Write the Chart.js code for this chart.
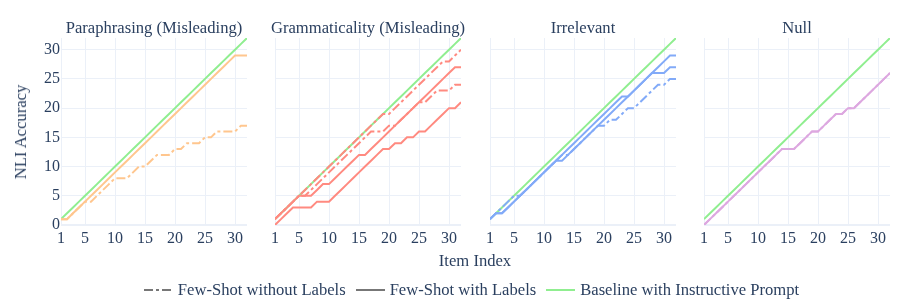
<!DOCTYPE html>
<html>
<head>
<meta charset="utf-8">
<script src="https://cdn.jsdelivr.net/npm/chart.js@4"></script>
<style>
  body { margin:0; background:#fff; width:913px; height:305px; overflow:hidden; position:relative;
         font-family:"Liberation Serif", "Times New Roman", serif; color:#2a3f5f; }
  canvas.panel { position:absolute; top:28px; }
  .title { position:absolute; top:18px; width:240px; text-align:center; font-size:16.6px; white-space:nowrap; }
  .ytitle { position:absolute; left:21px; top:132px; font-size:16.6px; white-space:nowrap;
            transform:translate(-50%,-50%) rotate(-90deg); }
  .xtitle { position:absolute; left:475px; top:261px; font-size:16.6px; transform:translate(-50%,-50%); }
  .legend { position:absolute; left:0; width:953px; top:280px; display:flex; justify-content:center;
            align-items:center; font-size:16.6px; }
  .legend span { display:flex; align-items:center; margin-right:10px; }
  .legend svg { margin-right:5px; }
</style>
</head>
<body>

<script>
// Item index (x) and tick labels
const itemIndex = [1,2,3,4,5,6,7,8,9,10,11,12,13,14,15,16,17,18,19,20,21,22,23,24,25,26,27,28,29,30,31,32];
const xTicks = [1,5,10,15,20,25,30];
const yTicks = [0,5,10,15,20,25,30];

// Baseline with instructive prompt (same in every panel)
const baseline = [1,2,3,4,5,6,7,8,9,10,11,12,13,14,15,16,17,18,19,20,21,22,23,24,25,26,27,28,29,30,31,32];

// Paraphrasing (Misleading)
const paraWithLabels    = [1,1,2,3,4,5,6,7,8,9,10,11,12,13,14,15,16,17,18,19,20,21,22,23,24,25,26,27,28,29,29,29];
const paraWithoutLabels = [1,1,2,3,4,4,5,6,7,8,8,8,9,10,10,11,12,12,12,13,13,14,14,14,15,15,16,16,16,16,17,17];

// Grammaticality (Misleading)
const gramWithLabelsA    = [1,2,3,4,5,5,5,6,7,7,8,9,10,11,12,12,13,14,15,16,17,18,19,20,21,22,23,24,25,26,27,27];
const gramWithLabelsB    = [0,1,2,3,3,3,3,4,4,4,5,6,7,8,9,10,11,12,13,13,14,14,15,15,16,16,17,18,19,20,20,21];
const gramWithoutLabelsA = [1,2,3,4,5,6,7,8,9,10,11,12,13,14,15,16,17,18,19,19,20,21,22,23,24,25,26,27,28,28,29,30];
const gramWithoutLabelsB = [1,2,3,4,5,5,6,7,8,9,10,11,12,13,14,15,16,16,16,17,17,18,19,20,21,21,22,23,23,23,24,24];

// Irrelevant
const irrWithLabelsA    = [1,2,2,3,4,5,6,7,8,9,10,11,12,13,14,15,16,17,18,19,20,21,22,22,23,24,25,26,27,28,29,29];
const irrWithLabelsB    = [1,2,2,3,4,5,6,7,8,9,10,11,11,12,13,14,15,16,17,18,19,20,21,22,23,24,25,26,26,26,27,27];
const irrWithoutLabels  = [1,2,3,4,5,5,6,7,8,9,10,11,12,12,13,14,15,16,17,17,18,18,19,20,20,21,22,23,24,24,25,25];

// Null
const nullWithLabels    = [0,1,2,3,4,5,6,7,8,9,10,11,12,13,13,13,14,15,16,16,17,18,19,19,20,20,21,22,23,24,25,26];
const nullWithoutLabels = [0,1,2,3,4,5,6,7,8,9,10,11,12,13,13,13,14,15,16,16,17,18,19,19,20,20,21,22,23,24,25,26];

const GREEN  = "#90EE90";
const ORANGE = "#FFC68E";
const SALMON = "#FF8A80";
const BLUE   = "#82AAF8";
const PLUM   = "#DDA8E0";
const DASHDOT = [9,3,3,3];
const FONT = "'Liberation Serif', 'Times New Roman', serif";
const TEXT = "#2a3f5f";
const GRID = "#EBF0F8";

const panels = [
  { title: "Paraphrasing (Misleading)",   left: 61,  color: ORANGE, showY: true,
    solid: [paraWithLabels], dashed: [paraWithoutLabels] },
  { title: "Grammaticality (Misleading)", left: 275, color: SALMON, showY: false,
    solid: [gramWithLabelsA, gramWithLabelsB], dashed: [gramWithoutLabelsA, gramWithoutLabelsB] },
  { title: "Irrelevant",                  left: 490, color: BLUE, showY: false,
    solid: [irrWithLabelsA, irrWithLabelsB], dashed: [irrWithoutLabels] },
  { title: "Null",                        left: 704, color: PLUM, showY: false,
    solid: [nullWithLabels], dashed: [nullWithoutLabels] },
];

function toPoints(arr) {
  return arr.map((v, i) => ({ x: itemIndex[i], y: v }));
}

panels.forEach(p => {
  const canvas = document.createElement("canvas");
  canvas.className = "panel";
  canvas.width = 240;
  canvas.height = 227;
  canvas.style.left = (p.left - 50) + "px";
  document.body.appendChild(canvas);

  const t = document.createElement("div");
  t.className = "title";
  t.textContent = p.title;
  t.style.left = (p.left + 93 - 120) + "px";
  document.body.appendChild(t);

  const datasets = [];
  p.dashed.forEach(d => datasets.push({
    data: toPoints(d), borderColor: p.color, borderWidth: 2, borderDash: DASHDOT, order: 1
  }));
  p.solid.forEach(d => datasets.push({
    data: toPoints(d), borderColor: p.color, borderWidth: 2, order: 2
  }));
  datasets.push({ data: toPoints(baseline), borderColor: GREEN, borderWidth: 2, order: 3 });

  new Chart(canvas, {
    type: "line",
    data: { datasets },
    options: {
      responsive: false,
      animation: false,
      devicePixelRatio: 1,
      layout: { padding: { top: 10, right: 4, left: 0, bottom: 0 } },
      elements: { point: { radius: 0 }, line: { tension: 0 } },
      plugins: { legend: { display: false }, tooltip: { enabled: false }, title: { display: false } },
      scales: {
        x: {
          type: "linear", min: 1, max: 32,
          afterBuildTicks: s => { s.ticks = xTicks.map(v => ({ value: v })); },
          afterFit: s => { s.height = 30; s.paddingLeft = 0; s.paddingRight = 0; },
          grid: { color: GRID, drawTicks: false },
          border: { display: false },
          ticks: { color: TEXT, font: { family: FONT, size: 16 }, padding: 4, maxRotation: 0, autoSkip: false }
        },
        y: {
          type: "linear", min: 0, max: 32,
          afterBuildTicks: s => { s.ticks = yTicks.map(v => ({ value: v })); },
          afterFit: s => { s.width = 50; s.paddingTop = 0; s.paddingBottom = 0; },
          grid: { color: GRID, drawTicks: false, lineWidth: c => (c.tick && c.tick.value === 0 ? 2 : 1) },
          border: { display: false },
          ticks: { display: p.showY, color: TEXT, font: { family: FONT, size: 16 }, padding: 1 }
        }
      }
    }
  });
});
</script>

<div class="ytitle">NLI Accuracy</div>
<div class="xtitle">Item Index</div>
<div class="legend">
  <span><svg width="29" height="6"><line x1="0" y1="3" x2="29" y2="3" stroke="#777" stroke-width="2" stroke-dasharray="9,3,3,3"/></svg>Few-Shot without Labels</span>
  <span><svg width="29" height="6"><line x1="0" y1="3" x2="29" y2="3" stroke="#777" stroke-width="2"/></svg>Few-Shot with Labels</span>
  <span><svg width="29" height="6"><line x1="0" y1="3" x2="29" y2="3" stroke="#90EE90" stroke-width="2"/></svg>Baseline with Instructive Prompt</span>
</div>
</body>
</html>
